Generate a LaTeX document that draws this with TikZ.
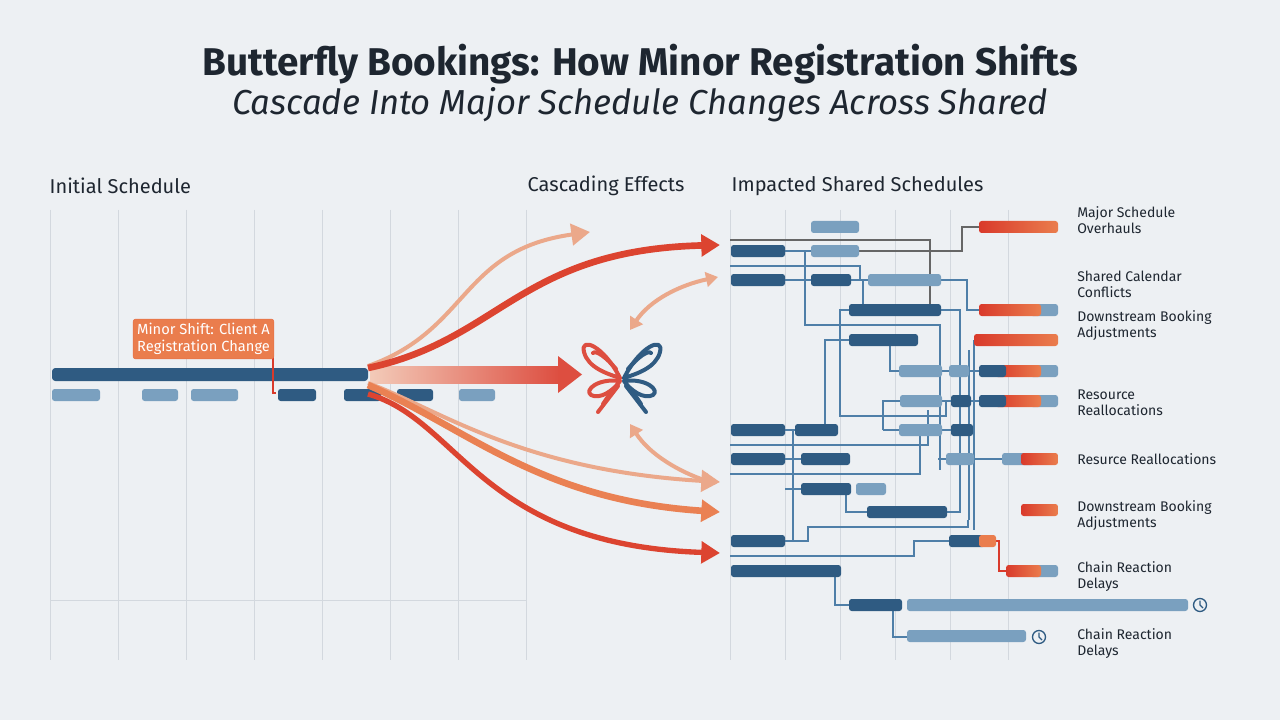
\documentclass[tikz,border=0pt]{standalone}
\usepackage{fontspec}
\setmainfont{Fira Sans}
\usetikzlibrary{arrows.meta}
\definecolor{bg}{HTML}{EDF0F3}
\definecolor{dk}{HTML}{2F5B82}
\definecolor{lt}{HTML}{7AA0BF}
\definecolor{o1}{HTML}{D93A2B}
\definecolor{o2}{HTML}{EA7D4D}
\definecolor{op}{HTML}{EBA88A}
\definecolor{gl}{HTML}{D3D8DE}
\definecolor{ln}{HTML}{4F7FA8}
\definecolor{tx}{HTML}{1E2630}
\newcommand\gb[4]{\fill[#4,rounded corners=2pt] (#1,#2) rectangle (#3,#2+12);}
\newcommand\ob[3]{\shade[left color=o1,right color=o2,rounded corners=2pt] (#1,#2) rectangle (#3,#2+12);}
\begin{document}
\begin{tikzpicture}[x=0.75pt,y=-0.75pt,
  lbl/.style={anchor=west,align=left,font=\fontsize{10.5pt}{12pt}\selectfont,text=tx,inner sep=0},
  con/.style={ln,line width=0.8pt},
  gcon/.style={gray!80!black,line width=0.8pt},
  arr/.style={line width=#1,-{Triangle[length=14pt,width=16pt]}},
  darr/.style={op,line width=3pt,{Triangle[length=9pt,width=11pt]}-{Triangle[length=9pt,width=11pt]}}]
\fill[bg] (0,0) rectangle (1280,720);
\useasboundingbox (0,0) rectangle (1280,720);
% titles
\node[font=\fontsize{29pt}{34pt}\selectfont\bfseries,text=tx] (t1) at (640,64) {Butterfly Bookings: How Minor Registration Shifts};
\node[font=\fontsize{26pt}{31pt}\selectfont\itshape,text=tx] (t2) at (640,105) {Cascade Into Major Schedule Changes Across Shared};
\node[anchor=west,font=\fontsize{15pt}{18pt}\selectfont,text=tx] (s1) at (45,186) {Initial Schedule};
\node[anchor=west,font=\fontsize{15pt}{18pt}\selectfont,text=tx] (s2) at (523,186) {Cascading Effects};
\node[anchor=west,font=\fontsize{15pt}{18pt}\selectfont,text=tx] (s3) at (727,186) {Impacted Shared Schedules};
% grids
\foreach \x in {50,118,186,254,322,390,458,526} \draw[gl,line width=0.7pt] (\x,210) -- (\x,660);
\draw[gl,line width=0.7pt] (50,600) -- (526,600);
\foreach \x in {730,785,840,895,950,1008} \draw[gl,line width=0.7pt] (\x,210) -- (\x,660);
% left bars
\fill[dk,rounded corners=2.5pt] (52,368) rectangle (368,381);
\gb{52}{389}{100}{lt}\gb{142}{389}{178}{lt}\gb{191}{389}{238}{lt}
\gb{278}{389}{316}{dk}\gb{344}{389}{381}{dk}\gb{397}{389}{433}{dk}\gb{459}{389}{495}{lt}
\draw[o1,line width=1pt] (273,356) -- (273,393) -- (276,393);
\node[fill=o2,draw=o2!80!o1,rounded corners=2pt,text=white,align=left,inner sep=3pt,
 font=\fontsize{11pt}{13pt}\selectfont] (ms) at (203.5,339) {Minor Shift: Client A\\Registration Change};
% cascade arrows
\coordinate (src) at (368,374);
\shade[left color=op!60,right color=o1!90] (370,366) rectangle (560,383);
\fill[o1!90] (558,356) -- (582,374.5) -- (558,393) -- cycle;
\draw[arr=3pt,op] (368,366) .. controls (470,330) and (460,250) .. (590,232);
\draw[arr=5pt,o1!85!o2] (368,368) .. controls (500,340) and (520,250) .. (720,245);
\draw[arr=3pt,op] (368,383) .. controls (440,410) and (520,470) .. (720,482);
\draw[arr=5pt,o2!90!op] (368,385) .. controls (470,430) and (540,500) .. (720,512);
\draw[arr=4pt,o1!85!o2] (368,394) .. controls (460,420) and (480,545) .. (720,553);
\draw[darr] (630,330) .. controls (650,300) and (680,285) .. (718,277);
\draw[darr] (630,424) .. controls (650,455) and (680,472) .. (716,484);
% butterfly
\begin{scope}[line width=3pt,line cap=round,line join=round]
\draw[o1!90] (620,378) .. controls (604,346) and (580,336) .. (584,352) .. controls (588,368) and (608,374) .. (620,378);
\draw[o1!90] (616,369) .. controls (606,357) and (596,350) .. (593,353);
\draw[o1!90] (620,381) .. controls (598,378) and (584,390) .. (591,395) .. controls (600,400) and (614,390) .. (620,381);
\draw[o1!90] (618,386) -- (598,412);
\draw[o1!90] (611,392) -- (603,404);
\draw[dk] (624,378) .. controls (640,346) and (664,336) .. (660,352) .. controls (656,368) and (636,374) .. (624,378);
\draw[dk] (628,369) .. controls (638,357) and (648,350) .. (651,353);
\draw[dk] (624,381) .. controls (646,378) and (660,390) .. (653,395) .. controls (644,400) and (630,390) .. (624,381);
\draw[dk] (626,386) -- (646,412);
\draw[dk] (633,392) -- (641,404);
\end{scope}
% connectors right
\draw[gcon] (730,240) -- (930,240) -- (930,304);
\draw[gcon] (859,251) -- (962,251) -- (962,227) -- (979,227);
\draw[con] (785,251) -- (811,251);
\draw[con] (805,251) -- (805,325) -- (940,325) -- (940,470);
\draw[con] (730,266) -- (860,266) -- (860,280);
\draw[con] (785,280) -- (811,280);
\draw[con] (851,280) -- (868,280);
\draw[con] (863,280) -- (863,304);
\draw[con] (941,280) -- (967,280) -- (967,310) -- (979,310);
\draw[con] (941,310) -- (960,310) -- (960,500);
\draw[con] (849,310) -- (840,310) -- (840,416) -- (946,416) -- (946,400);
\draw[con] (890,346) -- (890,371) -- (899,371);
\draw[con] (942,371) -- (949,371);
\draw[con] (969,371) -- (979,371);
\draw[con] (969,350) -- (969,520);
\draw[con] (974,340) -- (974,530);
\draw[con] (825,430) -- (825,340) -- (849,340);
\draw[con] (883,430) -- (883,401) -- (900,401);
\draw[con] (942,401) -- (951,401);
\draw[con] (971,401) -- (979,401);
\draw[con] (883,430) -- (899,430);
\draw[con] (942,430) -- (951,430);
\draw[con] (785,430) -- (795,430);
\draw[con] (730,445) -- (928,445) -- (928,410);
\draw[con] (785,459) -- (801,459);
\draw[con] (730,474) -- (920,474) -- (920,430);
\draw[con] (938,459) -- (946,459);
\draw[con] (974,459) -- (1002,459);
\draw[con] (793,430) -- (793,541);
\draw[con] (785,489) -- (801,489);
\draw[con] (846,495) -- (846,512) -- (867,512);
\draw[con] (947,512) -- (960,512) -- (960,470);
\draw[con] (785,541) -- (808,541) -- (808,527) -- (968,527) -- (968,520);
\draw[con] (730,556) -- (914,556) -- (914,541) -- (949,541);
\draw[o1,line width=0.9pt] (996,541) -- (999,541) -- (999,571) -- (1006,571);
\draw[con] (835,577) -- (835,605) -- (849,605);
\draw[con] (893,611) -- (893,637) -- (907,637);
% right bars
\gb{811}{221}{859}{lt}
\gb{731}{245}{785}{dk}\gb{811}{245}{859}{lt}
\gb{731}{274}{785}{dk}\gb{811}{274}{851}{dk}\gb{868}{274}{941}{lt}
\gb{849}{304}{941}{dk}
\gb{849}{334}{918}{dk}
\gb{899}{365}{942}{lt}\gb{949}{365}{969}{lt}
\gb{900}{395}{942}{lt}\gb{951}{395}{971}{dk}
\gb{731}{424}{785}{dk}\gb{795}{424}{838}{dk}\gb{899}{424}{942}{lt}\gb{951}{424}{973}{dk}
\gb{731}{453}{785}{dk}\gb{801}{453}{850}{dk}\gb{946}{453}{974}{lt}
\gb{801}{483}{851}{dk}\gb{856}{483}{886}{lt}
\gb{867}{506}{947}{dk}
\gb{731}{535}{785}{dk}
\gb{949}{535}{985}{dk}\fill[o2,rounded corners=2pt] (979,535) rectangle (996,547);
\gb{731}{565}{841}{dk}
\gb{849}{599}{902}{dk}\gb{907}{599}{1188}{lt}
\gb{907}{630}{1026}{lt}
\draw[dk,line width=1pt] (1200,605) circle (6.5) (1200,600.5) -- (1200,605) -- (1203,608);
\draw[dk,line width=1pt] (1039,637) circle (6.5) (1039,632.5) -- (1039,637) -- (1042,640);
% orange bars
\ob{979}{221}{1058}
\gb{1030}{304}{1058}{lt}\ob{979}{304}{1041}
\ob{974}{334}{1058}
\gb{1030}{365}{1058}{lt}\ob{995}{365}{1041}\gb{979}{365}{1006}{dk}
\gb{1030}{395}{1058}{lt}\ob{995}{395}{1041}\gb{979}{395}{1006}{dk}
\gb{1002}{453}{1035}{lt}\ob{1021}{453}{1058}
\ob{1021}{504}{1058}
\gb{1030}{565}{1058}{lt}\ob{1006}{565}{1041}
% labels
\node[lbl] (l1) at (1077,220) {Major Schedule\\Overhauls};
\node[lbl] (l2) at (1077,284) {Shared Calendar\\Conflicts};
\node[lbl] (l3) at (1077,326) {Downstream Booking\\Adjustments};
\node[lbl] (l4) at (1077,403) {Resource\\Reallocations};
\node[lbl] (l5) at (1077,459) {Resurce Reallocations};
\node[lbl] (l6) at (1077,516) {Downstream Booking\\Adjustments};
\node[lbl] (l7) at (1077,577) {Chain Reaction\\Delays};
\node[lbl] (l8) at (1077,644) {Chain Reaction\\Delays};
\end{tikzpicture}
\end{document}
